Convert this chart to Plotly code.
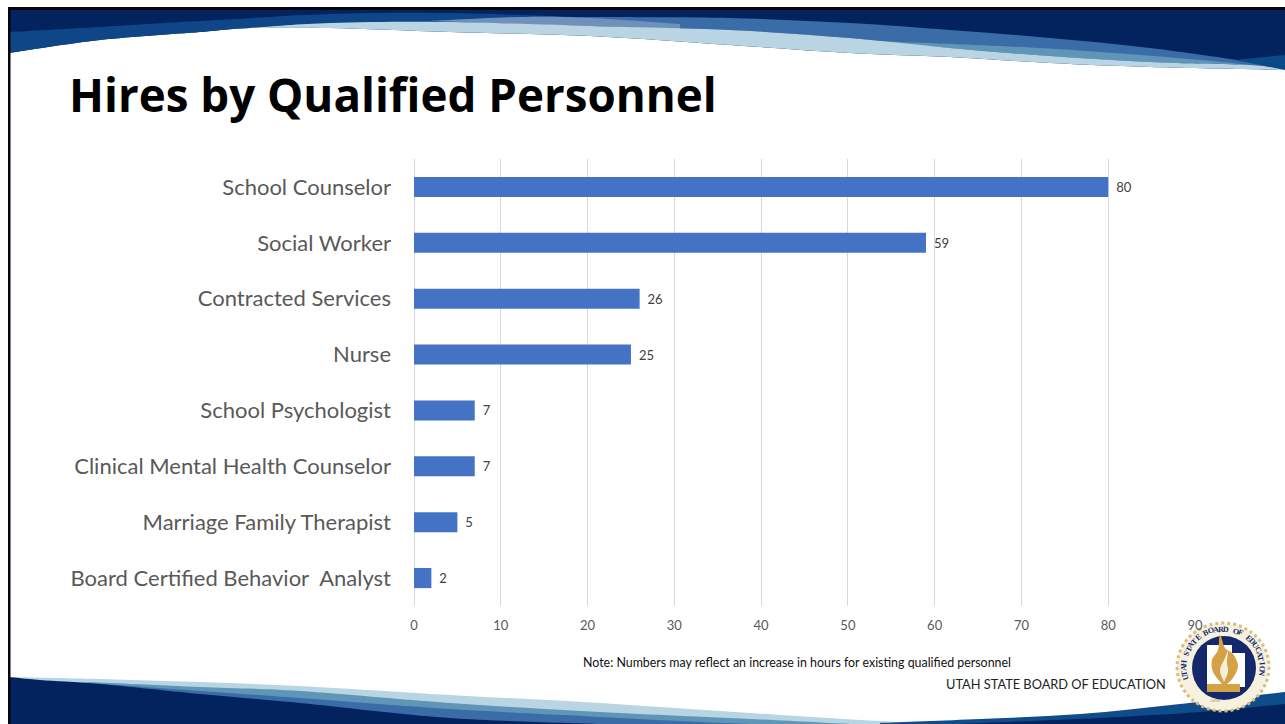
import math
import plotly.graph_objects as go

W, H = 1285, 724
categories = ["School Counselor", "Social Worker", "Contracted Services", "Nurse",
              "School Psychologist", "Clinical Mental Health Counselor",
              "Marriage Family Therapist", "Board Certified Behavior  Analyst"]
values = [80, 59, 26, 25, 7, 7, 5, 2]
x_ticks = [0, 10, 20, 30, 40, 50, 60, 70, 80, 90]
title_text = "Hires by Qualified Personnel"
note_text = "Note: Numbers may reflect an increase in hours for existing qualified personnel"
org_text = "UTAH STATE BOARD OF EDUCATION"
seal_text = "UTAH STATE BOARD OF EDUCATION"
NAVY, BLUE, MID, TEAL, LIGHT = "#03235e", "#0f4688", "#3a6ca8", "#5f96b8", "#b9d5e3"


def X(p):
    return p / W


def Y(p):
    return 1 - p / H


def smooth(pts):
    """Catmull-Rom path segment through page-pixel points, in paper coordinates."""
    out = ""
    for i in range(len(pts) - 1):
        p0 = pts[max(i - 1, 0)]
        p1 = pts[i]
        p2 = pts[i + 1]
        p3 = pts[min(i + 2, len(pts) - 1)]
        c1 = (p1[0] + (p2[0] - p0[0]) / 6, p1[1] + (p2[1] - p0[1]) / 6)
        c2 = (p2[0] - (p3[0] - p1[0]) / 6, p2[1] - (p3[1] - p1[1]) / 6)
        out += f" C {X(c1[0]):.5f} {Y(c1[1]):.5f} {X(c2[0]):.5f} {Y(c2[1]):.5f} {X(p2[0]):.5f} {Y(p2[1]):.5f}"
    return out


def closed(top, rest=()):
    s = f"M {X(top[0][0]):.5f} {Y(top[0][1]):.5f}" + smooth(top)
    for p in rest:
        s += f" L {X(p[0]):.5f} {Y(p[1]):.5f}"
    return s + " Z"


def band(upper, lower_left_to_right, color):
    """Area between an upper and a lower curve, both given left to right."""
    s = closed(upper, [])[:-2]
    rev = list(reversed(lower_left_to_right))
    s += f" L {X(rev[0][0]):.5f} {Y(rev[0][1]):.5f}" + smooth(rev) + " Z"
    return shape_path(s, color)


def shape_path(path, color):
    return dict(type="path", path=path, xref="paper", yref="paper", fillcolor=color,
                line=dict(width=0), layer="below")


def ellipse(cx, cy, rx, ry, color, line=None, lw=0, dash="solid"):
    return dict(type="circle", xref="paper", yref="paper", x0=X(cx - rx), x1=X(cx + rx),
                y0=Y(cy + ry), y1=Y(cy - ry), fillcolor=color,
                line=dict(width=lw, color=line or color, dash=dash), layer="below")


shapes = []
# top band
white_edge = [(9, 53), (100, 40), (200, 32), (250, 28), (330, 28), (450, 32), (590, 36), (730, 45),
              (850, 53), (950, 57), (1050, 63), (1150, 67), (1285, 70)]
shapes.append(shape_path(closed(white_edge, [(1285, 9), (9, 9)]), NAVY))
shapes.append(band([(9, 32), (100, 27), (200, 21), (330, 14), (450, 13), (600, 18)],
                   [(9, 53), (100, 40), (200, 32), (250, 28), (330, 26), (450, 22), (600, 18)], BLUE))
shapes.append(band([(430, 21), (520, 17), (590, 17), (730, 18), (850, 23), (950, 30), (1050, 38), (1150, 48),
                    (1250, 62), (1285, 69)],
                   [(430, 21), (520, 24), (590, 26), (730, 30), (850, 38), (950, 48), (1050, 56), (1150, 62),
                    (1250, 65), (1285, 69)], MID))
shapes.append(band([(430, 21), (520, 17), (590, 18), (680, 24)], [(430, 21), (520, 24), (590, 26), (680, 29)],
                   "#6f90ba"))
shapes.append(band([(870, 41), (1000, 46), (1100, 52), (1200, 60), (1285, 69)],
                   [(870, 41), (950, 48), (1050, 56), (1150, 62), (1250, 65), (1285, 69)], TEAL))
shapes.append(band([(250, 28), (330, 23), (450, 22), (590, 26), (730, 30), (850, 38), (950, 48),
                    (1050, 56), (1150, 62), (1250, 65), (1285, 69)],
                   white_edge[3:], LIGHT))
shapes.append(shape_path(closed([(1235, 60), (1285, 55)], [(1285, 70)]), "#0b4a86"))

# bottom band
b_white = [(9, 677), (100, 679), (200, 682), (300, 686), (450, 695), (600, 703), (750, 713), (900, 722),
           (1000, 724)]
b_teal = [(90, 682), (200, 687), (300, 691), (450, 703), (600, 712), (750, 719), (850, 724)]
b_mid = [(90, 683), (200, 691), (300, 698), (450, 709), (600, 717), (700, 722), (750, 724)]
b_navy = [(40, 680), (100, 684), (200, 694), (300, 703), (450, 718), (600, 724)]
shapes.append(shape_path(closed(b_white, [(9, 724)]), LIGHT))
shapes.append(shape_path(closed(b_teal, [(9, 724), (9, 690)]), TEAL))
shapes.append(shape_path(closed(b_mid, [(9, 724), (9, 690)]), MID))
shapes.append(shape_path(closed([(9, 677)] + b_navy, [(9, 724)]), NAVY))
shapes.append(shape_path(closed([(880, 723), (980, 719), (1080, 714), (1180, 704), (1285, 692)],
                                [(1285, 724), (880, 724)]), "#0e4c8c"))
shapes.append(shape_path(closed([(960, 724), (1100, 718), (1200, 712), (1285, 704)], [(1285, 724)]), NAVY))

# frame
shapes.append(dict(type="rect", xref="paper", yref="paper", x0=X(8), x1=X(W), y0=Y(10), y1=Y(7),
                   fillcolor="#05050f", line=dict(width=0), layer="below"))
shapes.append(dict(type="rect", xref="paper", yref="paper", x0=X(8), x1=X(10.5), y0=Y(H), y1=Y(7),
                   fillcolor="#05050f", line=dict(width=0), layer="below"))

# seal
cx, cy = 1223, 667
shapes.append(ellipse(cx, cy, 46, 44, "#f7f1df", "#d8bd7c", 3, "dot"))
shapes.append(ellipse(cx + 1, cy + 1, 32, 32, "#14296b"))
utah = [(1207, 645), (1232, 645), (1232, 653), (1245, 653), (1245, 687), (1207, 687)]
shapes.append(shape_path("M " + " L ".join(f"{X(a):.5f} {Y(b):.5f}" for a, b in utah) + " Z", "#ffffff"))
flame = [(1222, 684), (1213, 672), (1212, 660), (1218, 650), (1220, 635), (1225, 648), (1233, 654),
         (1238, 666), (1233, 678), (1227, 684)]
shapes.append(shape_path(closed(flame), "#d4a144"))
swoosh = [(1224, 682), (1220, 670), (1225, 658), (1228, 651), (1227, 662), (1228, 672), (1224, 682)]
shapes.append(shape_path(closed(swoosh), "#f7efd9"))
shapes.append(dict(type="rect", xref="paper", yref="paper", x0=X(1207), x1=X(1240), y0=Y(692), y1=Y(684),
                   fillcolor="#d4a144", line=dict(width=0), layer="below"))

fig = go.Figure(go.Bar(
    y=categories, x=values, orientation="h", marker=dict(color="#4472c4", line=dict(width=0)),
    width=0.36, text=values, texttemplate="\u00a0\u2009%{text}", textposition="outside", cliponaxis=False,
    textfont=dict(family="Lato", size=13, color="#404040"), hoverinfo="skip"))

annotations = [
    dict(text=title_text, x=X(67), y=Y(94), xref="paper", yref="paper", xanchor="left", yanchor="middle",
         showarrow=False, font=dict(family="Open Sans", size=45.7, color="#000000", weight="bold")),
    dict(text=note_text, x=X(581), y=Y(662.5), xref="paper", yref="paper", xanchor="left", yanchor="middle",
         showarrow=False, font=dict(family="Lato", size=12.4, color="#111111")),
    dict(text=org_text, x=X(1168), y=Y(684), xref="paper", yref="paper", xanchor="right", yanchor="middle",
         showarrow=False, font=dict(family="Lato", size=12.8, color="#222222")),
    dict(text="1896", x=X(1223), y=Y(705), xref="paper", yref="paper", showarrow=False,
         font=dict(family="Liberation Serif", size=5, color="#b08d3e")),
]
n = len(seal_text)
for i, ch in enumerate(seal_text):
    ang = -106 + 206 * i / (n - 1)
    a = math.radians(ang)
    annotations.append(dict(text=ch, x=X(cx + 39 * math.sin(a)), y=Y(cy - 38 * math.cos(a)),
                            xref="paper", yref="paper", showarrow=False, textangle=ang,
                            xanchor="center", yanchor="middle",
                            font=dict(family="Liberation Serif", size=8, color="#14296b", weight="bold")))

fig.update_layout(
    width=W, height=H, margin=dict(l=0, r=0, t=0, b=0, pad=0), autosize=False,
    paper_bgcolor="#ffffff", plot_bgcolor="rgba(0,0,0,0)", showlegend=False,
    shapes=shapes, annotations=annotations,
    xaxis=dict(domain=[X(414), X(1195)], range=[0, 90], tickvals=x_ticks, showgrid=True, automargin=False,
               gridcolor="#d9d9d9", gridwidth=1, zeroline=True, zerolinecolor="#d9d9d9", zerolinewidth=1,
               showline=False, ticks="", ticklabelstandoff=10,
               tickfont=dict(family="Lato", size=13, color="#595959"), anchor="y"),
    yaxis=dict(domain=[Y(606), Y(159)], autorange="reversed", categoryorder="array", automargin=False,
               categoryarray=categories, showgrid=False, zeroline=False, showline=False, ticks="",
               ticklabelstandoff=22, tickfont=dict(family="Lato", size=22, color="#595959"), anchor="x"),
)

fig.write_html("out.html", post_script="document.body.style.margin='0';",
               config=dict(displayModeBar=False))
